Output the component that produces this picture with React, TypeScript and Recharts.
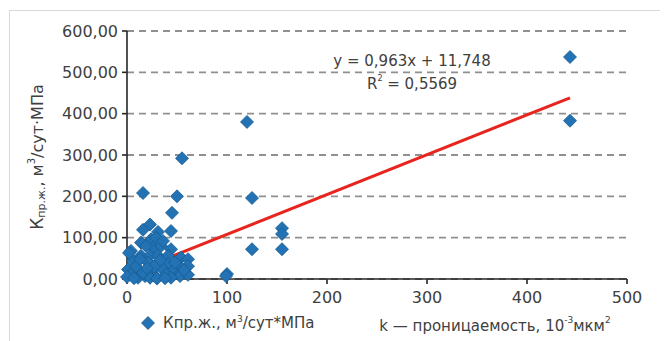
import React from 'react';
import {
  ScatterChart, Scatter, XAxis, YAxis, CartesianGrid, ReferenceLine, ReferenceDot, Legend,
} from 'recharts';

// Permeability k (x) and productivity index (y)
const permeability = [
  443, 443, 120, 125, 55, 16, 50, 45, 44, 16, 23, 31, 125, 155, 155, 155, 100, 99,
  24, 14, 26, 34, 44, 4, 14, 23, 31, 41, 54, 61, 6, 21, 31, 41, 53, 61, 1, 11, 24,
  36, 46, 54, 4, 18, 28, 39, 11, 23, 53, 61, 2, 29, 36, 19, 9, 16, 33, 48, 57, 0,
  7, 30, 44, 13, 27, 38, 20,
];
const productivity = [
  537, 383, 380, 196, 292, 208, 200, 160, 116, 119, 132, 114, 72, 123, 109, 72, 12, 7,
  96, 88, 76, 80, 72, 68, 56, 56, 56, 56, 52, 48, 44, 40, 36, 36, 31, 31, 23, 23, 19,
  23, 19, 15, 11, 7, 7, 11, 3, 3, 7, 10, 63, 100, 92, 80, 30, 15, 45, 40, 22, 5,
  2, 1, 3, 48, 30, 2, 26,
];
// Linear trend line end points
const trendX = [0, 443];
const trendY = [11.7, 438.4];
const equationText = 'y = 0,963x + 11,748';
const r2Value = '0,5569';

const xTicks = [0, 100, 200, 300, 400, 500];
const yTicks = [0, 100, 200, 300, 400, 500, 600];

const seriesName = 'Кпр.ж., м³/сут*МПа';

const points = permeability.map((k, i) => ({ k, q: productivity[i] }));

const FONT = '"DejaVu Sans", sans-serif';
const BLUE = '#2272b4';
const BLUE_DARK = '#175a91';

const Diamond = (props: any) => {
  const { cx, cy } = props;
  if (cx == null || cy == null) return null;
  const r = 6.5;
  return (
    <polygon
      points={`${cx},${cy - r} ${cx + r},${cy} ${cx},${cy + r} ${cx - r},${cy}`}
      fill={BLUE}
      stroke={BLUE_DARK}
      strokeWidth={0.8}
    />
  );
};

const YTitle = (props: any) => {
  const vb = props.viewBox || {};
  const x = (vb.x || 0) + 29;
  const y = (vb.y || 0) + (vb.height || 0) / 2 + 2;
  return (
    <text
      x={x}
      y={y}
      transform={`rotate(-90, ${x}, ${y})`}
      textAnchor="middle"
      dominantBaseline="central"
      fontFamily={FONT}
      fontSize={16}
      fill="#404040"
    >
      <tspan fontSize={17}>К</tspan>
      <tspan fontSize={11} dy={4}>пр.ж.</tspan>
      <tspan dy={-4}>, м</tspan>
      <tspan fontSize={10} dy={-6}>3</tspan>
      <tspan dy={6}>/сут·МПа</tspan>
    </text>
  );
};

const XTitle = (props: any) => {
  const vb = props.viewBox || {};
  const x = (vb.x || 0) + 368;
  const y = (vb.y || 0) + 47;
  return (
    <text
      x={x}
      y={y}
      textAnchor="middle"
      dominantBaseline="central"
      fontFamily={FONT}
      fontSize={15}
      fill="#404040"
    >
      <tspan>k — проницаемость, 10</tspan>
      <tspan fontSize={9} dy={-6}>-3</tspan>
      <tspan dy={6}>мкм</tspan>
      <tspan fontSize={9} dy={-6}>2</tspan>
    </text>
  );
};

const EquationLabel = (props: any) => {
  const vb = props.viewBox || {};
  const cx = (vb.x || 0) + (vb.width || 0) / 2;
  const cy = (vb.y || 0) + (vb.height || 0) / 2;
  return (
    <g fontFamily={FONT} fontSize={15} fill="#404040">
      <text x={cx} y={cy - 11} textAnchor="middle" dominantBaseline="central">
        {equationText}
      </text>
      <text x={cx} y={cy + 12} textAnchor="middle" dominantBaseline="central">
        <tspan>R</tspan>
        <tspan fontSize={8} dy={-6}>2</tspan>
        <tspan dy={6}>{` = ${r2Value}`}</tspan>
      </text>
    </g>
  );
};

const LegendContent = () => (
  <div style={{ display: 'flex', alignItems: 'center', fontFamily: FONT, fontSize: 15, color: '#404040' }}>
    <svg width={14} height={14} style={{ marginRight: 8 }}>
      <polygon points="7,0.5 13.5,7 7,13.5 0.5,7" fill={BLUE} stroke={BLUE_DARK} strokeWidth={0.8} />
    </svg>
    <span>Кпр.ж., м<sup style={{ fontSize: 9 }}>3</sup>/сут*МПа</span>
  </div>
);

export default function App() {
  return (
    <div style={{ position: 'relative', width: 660, height: 333, overflow: 'hidden', background: '#fff' }}>
      <div
        style={{
          position: 'absolute', left: 1, top: 2, width: 700, height: 400,
          border: '1px solid #d9d9d9', boxSizing: 'border-box',
        }}
      />
      <ScatterChart
        width={660}
        height={333}
        margin={{ top: 23, right: 41, bottom: 32, left: 0 }}
        style={{ position: 'absolute', left: 0, top: 0 }}
      >
        <CartesianGrid vertical={false} stroke="#8f8f8f" strokeWidth={1.8} strokeDasharray="7 5" />
        <XAxis
          type="number"
          dataKey="k"
          domain={[0, 500]}
          ticks={xTicks}
          height={30}
          axisLine={{ stroke: '#262626', strokeWidth: 1.6 }}
          tickLine={{ stroke: '#262626', strokeWidth: 1.6 }}
          tickSize={5}
          tickMargin={8}
          tick={{ fontFamily: FONT, fontSize: 16, fill: '#404040' }}
          label={{ content: XTitle }}
        />
        <YAxis
          type="number"
          dataKey="q"
          domain={[0, 600]}
          ticks={yTicks}
          width={119}
          axisLine={{ stroke: '#262626', strokeWidth: 1.6 }}
          tickLine={{ stroke: '#262626', strokeWidth: 1.6 }}
          tickSize={5}
          tickMargin={4}
          tickFormatter={(v: number) => v.toFixed(2).replace('.', ',')}
          tick={{ fontFamily: FONT, fontSize: 16, fill: '#404040' }}
          label={{ content: YTitle }}
        />
        <Scatter
          name={seriesName}
          data={points}
          shape={Diamond}
          isAnimationActive={false}
        />
        <ReferenceLine
          segment={[{ x: trendX[0], y: trendY[0] }, { x: trendX[1], y: trendY[1] }]}
          stroke="#e8241e"
          strokeWidth={3}
        />
        <ReferenceDot x={285} y={500} r={0} fill="none" stroke="none" label={{ content: EquationLabel }} />
        <Legend
          layout="horizontal"
          verticalAlign="middle"
          align="center"
          content={LegendContent}
          wrapperStyle={{ position: 'absolute', left: 133, top: 306, width: 'auto', height: 20 }}
        />
      </ScatterChart>
    </div>
  );
}
